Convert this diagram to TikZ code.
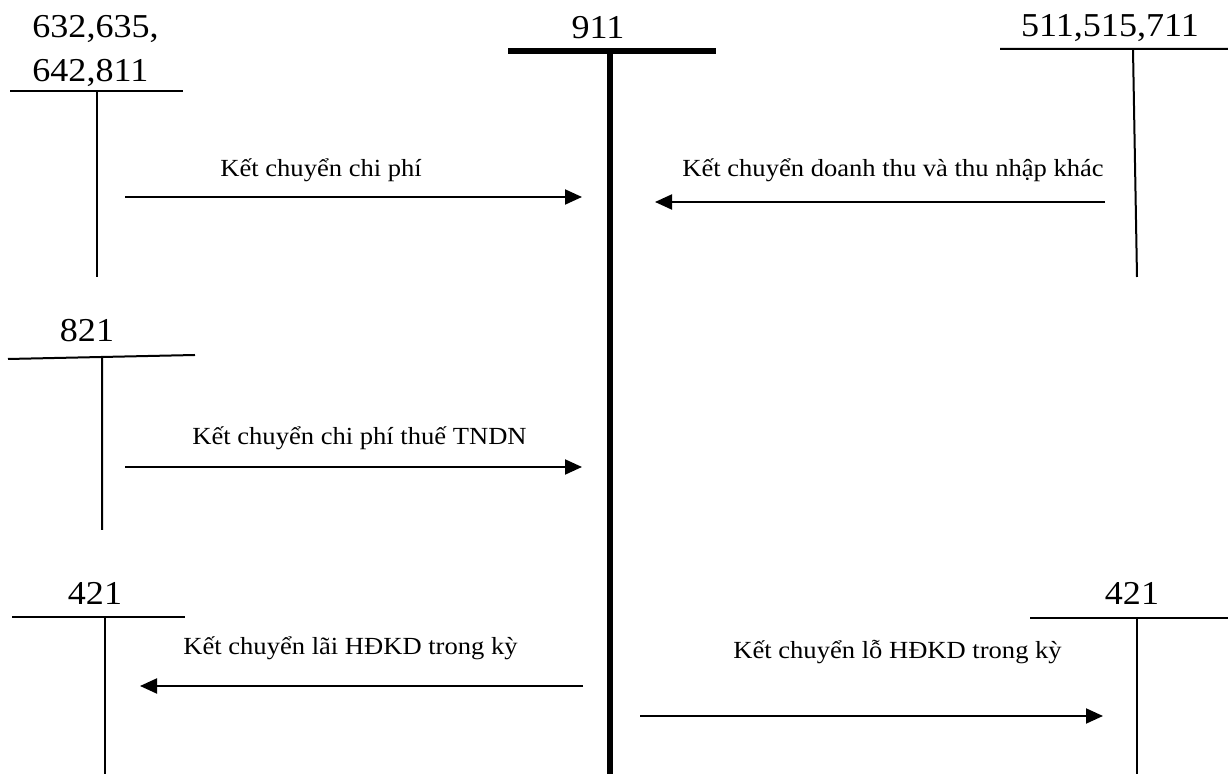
\documentclass[tikz,border=0pt]{standalone}
\usepackage{fontspec}
\setmainfont{Liberation Serif}[FakeStretch=1.08]
\usepackage{tikz}
\usetikzlibrary{arrows.meta, positioning}

\begin{document}
\begin{tikzpicture}[
        x=0.5pt, y=-0.5pt,
        accname/.style={inner sep=0pt, anchor=base, font=\fontsize{16.7}{20}\selectfont},
        note/.style={inner sep=0pt, anchor=base west, font=\fontsize{12.3}{15}\selectfont},
        tline/.style={line width=1pt},
        mainline/.style={line width=3.3pt},
        arrow/.style={line width=1pt, -{Triangle[length=8.5pt, width=7.5pt]}}
        ]

        \useasboundingbox[fill=white] (0,0) rectangle (1228,774);

        % Account names
        \node (acc632) [accname, anchor=base west] at (32,38) {632,635,};
        \node (acc642) [accname, anchor=base west] at (32,82) {642,811};
        \node (acc911) [accname] at (598,39) {911};
        \node (acc511) [accname] at (1110,37) {511,515,711};
        \node (acc821) [accname] at (87,342) {821};
        \node (acc421l) [accname] at (95,605) {421};
        \node (acc421r) [accname] at (1132,605) {421};

        % T accounts
        \draw [mainline] (508,51) -- (716,51);
        \draw [mainline] (610,51) -- (610,774);
        \draw [tline] (10,91) -- (183,91) (97,91) -- (97,277);
        \draw [tline] (1000,49) -- (1228,49) (1133,49) -- (1137,277);
        \draw [tline] (8,359) -- (195,355) (102,358) -- (102,530);
        \draw [tline] (12,617) -- (185,617) (105,617) -- (105,774);
        \draw [tline] (1030,618) -- (1228,618) (1137,618) -- (1137,774);

        % Arrow ends
        \coordinate (costfrom) at (125,197);
        \coordinate (costto) at (582,197);
        \coordinate (revfrom) at (1105,202);
        \coordinate (revto) at (655,202);
        \coordinate (taxfrom) at (125,467);
        \coordinate (taxto) at (582,467);
        \coordinate (profitfrom) at (583,686);
        \coordinate (profitto) at (140,686);
        \coordinate (lossfrom) at (640,716);
        \coordinate (lossto) at (1103,716);

        % Labels
        \node (lblcost) [note] at (220,177) {Kết chuyển chi phí};
        \node (lblrev) [note] at (682,177) {Kết chuyển doanh thu và thu nhập khác};
        \node (lbltax) [note] at (192,445) {Kết chuyển chi phí thuế TNDN};
        \node (lblprofit) [note] at (183,655) {Kết chuyển lãi HĐKD trong kỳ};
        \node (lblloss) [note] at (733,659) {Kết chuyển lỗ HĐKD trong kỳ};

        % Arrows
        \draw [arrow] (costfrom) -- (costto);
        \draw [arrow] (revfrom) -- (revto);
        \draw [arrow] (taxfrom) -- (taxto);
        \draw [arrow] (profitfrom) -- (profitto);
        \draw [arrow] (lossfrom) -- (lossto);

\end{tikzpicture}
\end{document}
